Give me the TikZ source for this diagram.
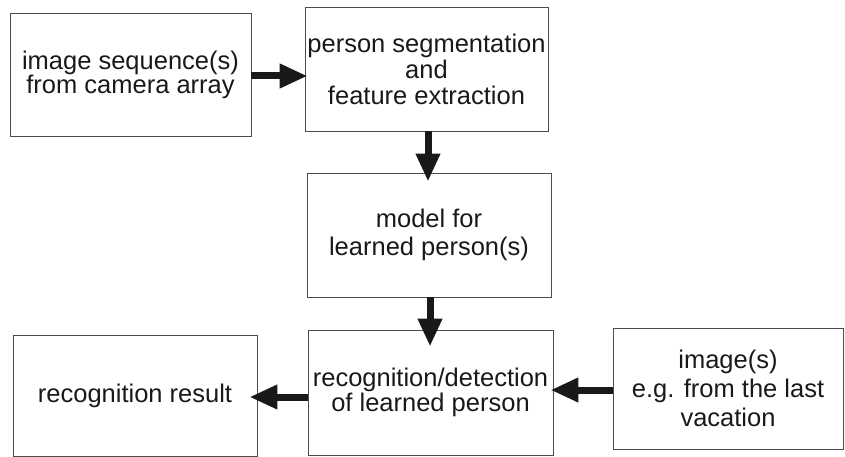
\documentclass[tikz,border=0pt]{standalone}
\usepackage{fontspec}
\setmainfont{Liberation Sans}
\usetikzlibrary{arrows.meta}
\begin{document}
\begin{tikzpicture}[x=1pt,y=-1pt,
  blockbox/.style={draw=black!70, line width=0.9pt, rectangle, align=center,
    inner sep=0pt, text=black!90, font=\fontsize{25.5}{#1}\selectfont},
  blockbox/.default=25.5,
  flowarrow/.style={line width=7pt, draw=black!90,
    -{Triangle[length=28pt,width=23pt]}}]
\useasboundingbox (0,0) rectangle (845,457);

% processing blocks
\node[blockbox=24, minimum width=241pt, minimum height=123pt] (seq) at (130.5,74.5)
  {image sequence(s)\\from camera array};
\node[blockbox=26, minimum width=243pt, minimum height=124pt] (seg) at (426.5,69)
  {person segmentation\\and\\feature extraction};
\node[blockbox=28, minimum width=244pt, minimum height=124pt] (model) at (429,235)
  {model for\\learned person(s)};
\node[blockbox=23.5, minimum width=245pt, minimum height=125pt] (recog) at (430.5,392.5)
  {recognition/detection\\of learned person};
\node[blockbox, minimum width=244pt, minimum height=121pt] (result) at (135,395.5)
  {recognition result};
\node[blockbox=29, minimum width=230pt, minimum height=121pt] (photos) at (728,388.5)
  {image(s)\\e.g. from the last\\vacation};

% rows and columns the arrows run along
\coordinate (row1) at (0,76);
\coordinate (row4) at (0,397);
\coordinate (row5) at (0,390);
\coordinate (col2) at (428,0);
\coordinate (col3) at (430,0);

% connectors
\draw[flowarrow, shorten >=-3pt] (seq.east |- row1) -- (seg.west |- row1);
\draw[flowarrow, shorten >=-9pt] (seg.south -| col2) -- (model.north -| col2);
\draw[flowarrow, shorten >=-17pt] (model.south -| col3) -- (recog.north -| col3);
\draw[flowarrow, shorten >=-8pt] (recog.west |- row4) -- (result.east |- row4);
\draw[flowarrow, shorten >=-3pt] (photos.west |- row5) -- (recog.east |- row5);
\end{tikzpicture}
\end{document}
